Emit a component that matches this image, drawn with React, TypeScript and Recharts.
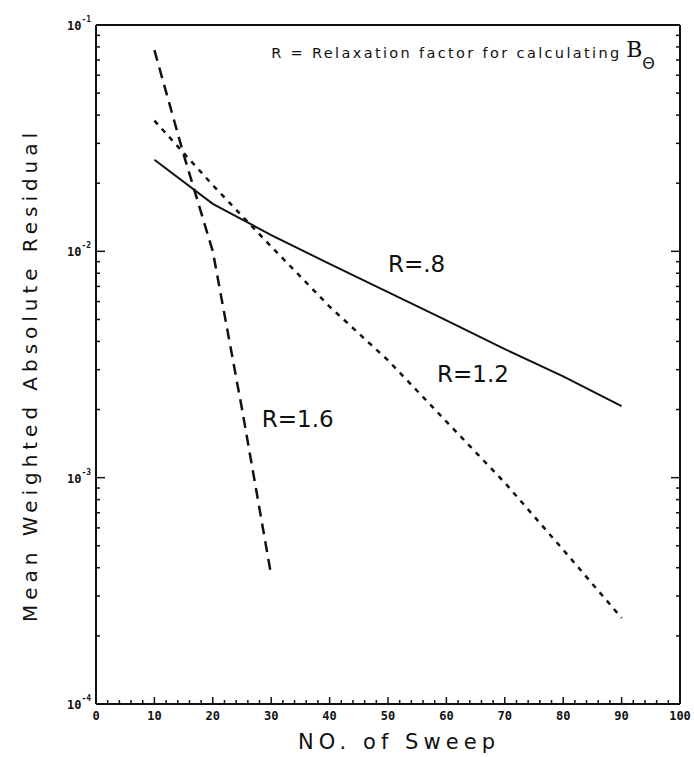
import React from "react";
import { LineChart, Line, XAxis, YAxis, ReferenceDot } from "recharts";

// sweep counts and residuals
const sweeps = [10, 20, 30, 40, 50, 60, 70, 80, 90];
const residualR08 = [0.0254, 0.0162, 0.0118, 0.0088, 0.0066, 0.00495, 0.0037, 0.0028, 0.00207];
const residualR12 = [0.0378, 0.0196, 0.0105, 0.0057, 0.0033, 0.00177, 0.00095, 0.00048, 0.00024];
const sweepsR16 = [10, 15, 20, 25, 30];
const residualR16 = [0.0774, 0.0268, 0.01, 0.00201, 0.00037];

const xTickLabels = [0, 10, 20, 30, 40, 50, 60, 70, 80, 90, 100];
const yDecades = [0.0001, 0.001, 0.01, 0.1];
const yExponents = ["-4", "-3", "-2", "-1"];

const toRows = (xs: number[], ys: number[]) => xs.map((s, i) => ({ sweep: s, residual: ys[i] }));
const dataR08 = toRows(sweeps, residualR08);
const dataR12 = toRows(sweeps, residualR12);
const dataR16 = toRows(sweepsR16, residualR16);

// minor ticks every 2 sweeps, log minors 2..9 per decade
const xTicks: number[] = [];
for (let v = 0; v <= 100; v += 2) xTicks.push(v);
const yTicks: number[] = [];
yDecades.forEach((d, i) => {
  yTicks.push(d);
  if (i < yDecades.length - 1) for (let m = 2; m <= 9; m++) yTicks.push(+(d * m).toPrecision(3));
});

const INK = "#111";
const PLOT_FONT = "'DejaVu Sans', sans-serif";
const TICK_FONT = "'DejaVu Sans Mono', monospace";

const BottomTick = ({ x, y, payload }: any) => {
  const major = xTickLabels.includes(payload.value);
  return (
    <g>
      <line x1={x} y1={y} x2={x} y2={y - (major ? 7 : 4)} stroke={INK} strokeWidth={1.5} />
      {major && (
        <text x={x} y={y + 16} textAnchor="middle" fontSize={12} fontWeight="bold" fontFamily={TICK_FONT} fill={INK}>
          {payload.value}
        </text>
      )}
    </g>
  );
};

const TopTick = ({ x, y, payload }: any) => {
  const major = xTickLabels.includes(payload.value);
  return <line x1={x} y1={y} x2={x} y2={y + (major ? 7 : 4)} stroke={INK} strokeWidth={1.5} />;
};

const LeftTick = ({ x, y, payload }: any) => {
  const idx = yDecades.indexOf(payload.value);
  const major = idx >= 0;
  return (
    <g>
      <line x1={x} y1={y} x2={x + (major ? 9 : 4)} y2={y} stroke={INK} strokeWidth={1.5} />
      {major && (
        <text x={x - 29} y={y + 5} fontSize={12} fontWeight="bold" fontFamily={TICK_FONT} fill={INK}>
          10
          <tspan dy={-8} fontSize={8}>
            {yExponents[idx]}
          </tspan>
        </text>
      )}
    </g>
  );
};

const RightTick = ({ x, y, payload }: any) => {
  const major = yDecades.includes(payload.value);
  return <line x1={x} y1={y} x2={x - (major ? 9 : 4)} y2={y} stroke={INK} strokeWidth={1.5} />;
};

const curveLabel = (text: string) => ({
  content: ({ viewBox }: any) => (
    <text x={viewBox.x} y={viewBox.y} fontSize={23} fontFamily={PLOT_FONT} fill={INK}>
      {text}
    </text>
  ),
});

export default function App() {
  return (
    <div style={{ position: "absolute", left: 0, top: 0, background: "#fff" }}>
      <LineChart width={694} height={757} margin={{ top: 24, right: 13, bottom: 0, left: 0 }}>
        <XAxis
          xAxisId="b"
          dataKey="sweep"
          type="number"
          domain={[0, 100]}
          ticks={xTicks}
          interval={0}
          height={53}
          tickSize={0}
          tickMargin={0}
          tick={<BottomTick />}
          axisLine={{ stroke: INK, strokeWidth: 2 }}
          label={{
            content: ({ viewBox }: any) => (
              <text x={298} y={viewBox.y + viewBox.height - 8} fontSize={21} fontFamily={PLOT_FONT} fill={INK} textLength={197} lengthAdjust="spacing">
                NO. of Sweep
              </text>
            ),
          }}
        />
        <XAxis
          xAxisId="t"
          orientation="top"
          dataKey="sweep"
          type="number"
          domain={[0, 100]}
          ticks={xTicks}
          interval={0}
          height={1}
          tickSize={0}
          tickMargin={0}
          tick={<TopTick />}
          axisLine={{ stroke: INK, strokeWidth: 2 }}
        />
        <YAxis
          yAxisId="l"
          scale="log"
          domain={[0.0001, 0.1]}
          allowDataOverflow
          ticks={yTicks}
          interval={0}
          width={96}
          tickSize={0}
          tickMargin={0}
          tick={<LeftTick />}
          axisLine={{ stroke: INK, strokeWidth: 2 }}
          label={{
            content: () => (
              <text
                x={0}
                y={0}
                transform="translate(37 622) rotate(-90)"
                fontSize={20}
                fontFamily={PLOT_FONT}
                fill={INK}
                textLength={489}
                lengthAdjust="spacing"
              >
                Mean Weighted Absolute Residual
              </text>
            ),
          }}
        />
        <YAxis
          yAxisId="r"
          orientation="right"
          scale="log"
          domain={[0.0001, 0.1]}
          allowDataOverflow
          ticks={yTicks}
          interval={0}
          width={1}
          tickSize={0}
          tickMargin={0}
          tick={<RightTick />}
          axisLine={{ stroke: INK, strokeWidth: 2 }}
        />

        <Line xAxisId="b" yAxisId="l" data={dataR08} dataKey="residual" type="linear" stroke={INK} strokeWidth={2} dot={false} isAnimationActive={false} />
        <Line xAxisId="b" yAxisId="l" data={dataR12} dataKey="residual" type="linear" stroke={INK} strokeWidth={2.5} strokeDasharray="5 6" dot={false} isAnimationActive={false} />
        <Line xAxisId="b" yAxisId="l" data={dataR16} dataKey="residual" type="linear" stroke={INK} strokeWidth={2.5} strokeDasharray="11 7" dot={false} isAnimationActive={false} />

        <ReferenceDot xAxisId="b" yAxisId="l" x={50} y={0.00807} r={0} stroke="none" label={curveLabel("R=.8")} />
        <ReferenceDot xAxisId="b" yAxisId="l" x={58.4} y={0.00264} r={0} stroke="none" label={curveLabel("R=1.2")} />
        <ReferenceDot xAxisId="b" yAxisId="l" x={28.4} y={0.00167} r={0} stroke="none" label={curveLabel("R=1.6")} />
        <ReferenceDot
          xAxisId="b"
          yAxisId="l"
          x={30}
          y={0.0713}
          r={0}
          stroke="none"
          label={{
            content: ({ viewBox }: any) => (
              <g>
                <text x={viewBox.x} y={viewBox.y} fontSize={14.5} fontFamily={PLOT_FONT} fill={INK} textLength={348} lengthAdjust="spacing">
                  R = Relaxation factor for calculating
                </text>
                <text x={viewBox.x + 355} y={viewBox.y - 1} fontSize={22} fontFamily="'DejaVu Serif', serif" fill={INK}>
                  B
                </text>
                <text x={viewBox.x + 371} y={viewBox.y + 11} fontSize={16} fontFamily={PLOT_FONT} fill={INK}>
                  Θ
                </text>
              </g>
            ),
          }}
        />
      </LineChart>
    </div>
  );
}
